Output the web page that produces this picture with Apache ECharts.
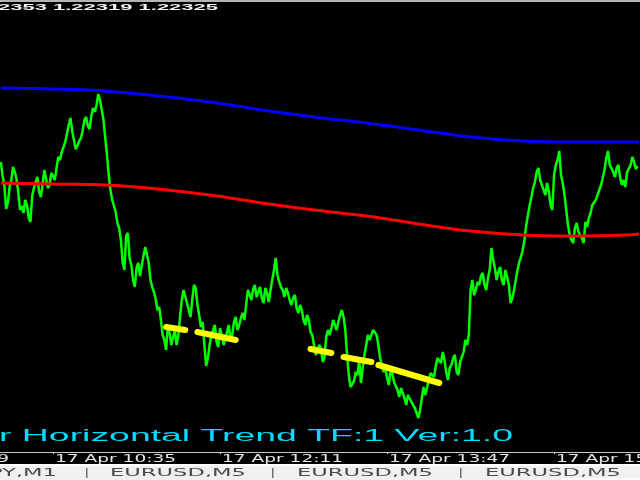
<!DOCTYPE html>
<html><head><meta charset="utf-8">
<script src="https://cdn.jsdelivr.net/npm/echarts@6/dist/echarts.min.js"></script>
<style>html,body{margin:0;padding:0;background:#000;overflow:hidden}#c{width:640px;height:480px}</style>
</head><body><div id="c"></div>
<script>
// Times are minutes since 00:00 on 17 Apr; prices in EURUSD (M1 closes)
const greenStart = 605;
const greenStep = 1;
const greenPrices = [
1.22323,1.22309,1.22300,1.22276,1.22282,1.22298,1.22305,1.22318,1.22313,1.22306,
1.22293,1.22275,1.22279,1.22272,1.22285,1.22280,1.22267,1.22263,1.22289,1.22297,
1.22303,1.22308,1.22293,1.22288,1.22301,1.22315,1.22313,1.22297,1.22300,1.22312,
1.22309,1.22305,1.22317,1.22328,1.22325,1.22333,1.22338,1.22343,1.22351,1.22360,
1.22367,1.22354,1.22345,1.22336,1.22339,1.22344,1.22347,1.22354,1.22365,1.22368,
1.22359,1.22356,1.22369,1.22377,1.22373,1.22380,1.22391,1.22385,1.22375,1.22365,
1.22347,1.22330,1.22310,1.22295,1.22285,1.22283,1.22273,1.22262,1.22257,1.22245,
1.22223,1.22215,1.22249,1.22252,1.22227,1.22220,1.22205,1.22198,1.22217,1.22222,
1.22209,1.22220,1.22229,1.22238,1.22237,1.22222,1.22205,1.22198,1.22193,1.22186,
1.22175,1.22178,1.22165,1.22150,1.22145,1.22135,1.22160,1.22152,1.22140,1.22148,
1.22155,1.22140,1.22149,1.22168,1.22185,1.22195,1.22193,1.22182,1.22175,1.22168,
1.22185,1.22200,1.22197,1.22180,1.22170,1.22158,1.22163,1.22140,1.22119,1.22127,
1.22140,1.22150,1.22155,1.22160,1.22143,1.22138,1.22157,1.22150,1.22140,1.22145,
1.22153,1.22160,1.22145,1.22150,1.22163,1.22168,1.22155,1.22160,1.22167,1.22172,
1.22165,1.22180,1.22195,1.22190,1.22185,1.22196,1.22200,1.22188,1.22193,1.22198,
1.22187,1.22182,1.22197,1.22192,1.22183,1.22195,1.22205,1.22215,1.22227,1.22210,
1.22203,1.22198,1.22195,1.22188,1.22197,1.22192,1.22185,1.22180,1.22187,1.22190,
1.22177,1.22172,1.22180,1.22175,1.22165,1.22160,1.22170,1.22165,1.22153,1.22150,
1.22140,1.22130,1.22135,1.22140,1.22137,1.22123,1.22127,1.22148,1.22155,1.22150,
1.22157,1.22165,1.22160,1.22155,1.22163,1.22170,1.22175,1.22168,1.22155,1.22130,
1.22110,1.22098,1.22100,1.22104,1.22113,1.22110,1.22125,1.22102,1.22117,1.22130,
1.22140,1.22150,1.22145,1.22150,1.22155,1.22157,1.22150,1.22140,1.22127,1.22120,
1.22113,1.22118,1.22107,1.22100,1.22115,1.22112,1.22103,1.22105,1.22095,1.22088,
1.22097,1.22095,1.22087,1.22080,1.22090,1.22092,1.22083,1.22085,1.22077,1.22072,
1.22067,1.22075,1.22087,1.22098,1.22090,1.22092,1.22105,1.22112,1.22113,1.22108,
1.22119,1.22127,1.22125,1.22122,1.22133,1.22125,1.22113,1.22105,1.22117,1.22120,
1.22127,1.22130,1.22113,1.22110,1.22123,1.22128,1.22133,1.22145,1.22140,1.22150,
1.22195,1.22205,1.22190,1.22195,1.22203,1.22200,1.22209,1.22212,1.22200,1.22195,
1.22207,1.22215,1.22237,1.22225,1.22217,1.22205,1.22213,1.22218,1.22205,1.22200,
1.22215,1.22208,1.22200,1.22182,1.22187,1.22195,1.22205,1.22215,1.22223,1.22228,
1.22235,1.22245,1.22260,1.22270,1.22280,1.22288,1.22297,1.22303,1.22313,1.22317,
1.22305,1.22300,1.22295,1.22290,1.22302,1.22293,1.22280,1.22275,1.22310,1.22320,
1.22325,1.22334,1.22310,1.22302,1.22290,1.22275,1.22260,1.22250,1.22245,1.22242,
1.22257,1.22262,1.22253,1.22250,1.22247,1.22242,1.22263,1.22258,1.22267,1.22272,
1.22280,1.22278,1.22285,1.22290,1.22295,1.22300,1.22307,1.22315,1.22327,1.22334,
1.22320,1.22318,1.22313,1.22308,1.22317,1.22320,1.22307,1.22300,1.22305,1.22298,
1.22313,1.22312,1.22320,1.22328,1.22323,1.22316,1.22319
];
const maTimes    = [605, 635, 665, 695, 725, 755, 785, 815, 845, 875, 905, 935, 965, 972];
const bluePrices = [1.22397,1.22396,1.22394,1.22389,1.22383,1.22375,1.22368,1.22362,1.22355,1.22348,1.22344,1.22343,1.22343,1.22343];
const redPrices  = [1.22302,1.22301,1.22300,1.22296,1.22290,1.22282,1.22275,1.22269,1.22261,1.22254,1.22250,1.22249,1.22250,1.22251];
const trendSegStart = [[700,1.22158],[718,1.22153],[783,1.22136],[802,1.22128],[822,1.22120]];
const trendSegEnd   = [[711,1.22155],[740,1.22145],[795,1.22132],[818,1.22123],[857,1.22102]];
const tickTimes  = [539, 635, 731, 827, 923];
const tickLabels = ['17 Apr 08:59','17 Apr 10:35','17 Apr 12:11','17 Apr 13:47','17 Apr 15:23'];
const infoText  = '2353 1.22319 1.22325';
const titleText = 'r Horizontal Trend TF:1 Ver:1.0';
const tabLabels = ['PY,M1','EURUSD,M5','EURUSD,M5','EURUSD,M5'];

const chart = echarts.init(document.getElementById('c'), null, {renderer:'canvas'});

const series = [
  {type:'line', name:'price', data: greenPrices.map((p,i)=>[greenStart+greenStep*i, p]),
   symbol:'none', lineStyle:{color:'#00ff00', width:2.5}, z:2, silent:true},
  {type:'line', name:'ma slow', data: maTimes.map((t,i)=>[t, redPrices[i]]),
   symbol:'none', smooth:0.4, lineStyle:{color:'#ff0000', width:3}, z:3, silent:true},
  {type:'line', name:'ma fast', data: maTimes.map((t,i)=>[t, bluePrices[i]]),
   symbol:'none', smooth:0.4, lineStyle:{color:'#0000ff', width:3}, z:3, silent:true}
];
trendSegStart.forEach((s,i)=>{
  series.push({type:'line', name:'trend'+i, data:[s, trendSegEnd[i]], symbol:'none',
    lineStyle:{color:'#ffff00', width:6, cap:'round'}, z:4, silent:true});
});

chart.setOption({
  backgroundColor:'#000000',
  animation:false,
  grid:{left:0, right:0, top:0, bottom:28},
  xAxis:{type:'value', min:604.5, max:972.4,
    axisLine:{lineStyle:{color:'#c8c8c8', width:1}},
    axisTick:{show:true, customValues: tickTimes.filter(t=>t>604.5), length:2, lineStyle:{color:'#e0e0e0'}},
    axisLabel:{show:false}, splitLine:{show:false}},
  yAxis:{type:'value', min:1.22033, max:1.22485, show:false},
  series: series
});

const mctx = document.createElement('canvas').getContext('2d');
function stretched(text, family, size, weight, x, y, targetW, color, align) {
  const font = weight + ' ' + size + 'px ' + family;
  mctx.font = font;
  const w = mctx.measureText(text).width;
  return {type:'text', x:x, y:y, scaleX: targetW / w, silent:true, z:10,
    style:{text:text, font:font, fill:color, textAlign:align||'left', textVerticalAlign:'middle',
           align:align||'left', verticalAlign:'middle'}};
}
function scaleFor(text, family, size, weight, targetW) {
  mctx.font = weight + ' ' + size + 'px ' + family;
  return targetW / mctx.measureText(text).width;
}

const g = [];
g.push({type:'rect', shape:{x:0, y:0, width:640, height:2}, style:{fill:'#b4b4b4'}, silent:true, z:10});
g.push(stretched(infoText, '"Liberation Sans"', 9, 'bold', -2, 7.5, 220, '#f4f4f4', 'left'));
g.push(stretched(titleText, '"Liberation Sans"', 16, 'normal', -1, 437, 514, '#00dcff', 'left'));
tickTimes.forEach((t,i)=>{
  const px = chart.convertToPixel({xAxisIndex:0}, t);
  g.push(stretched(tickLabels[i], '"DejaVu Sans"', 10, 'normal', px + 2, 459.5, 121, '#e6e6e6', 'left'));
});
g.push({type:'rect', shape:{x:0, y:464, width:640, height:2}, style:{fill:'#ffffff'}, silent:true, z:10});
g.push({type:'rect', shape:{x:0, y:466, width:640, height:14}, style:{fill:'#f0f0f0'}, silent:true, z:10});
g.push({type:'rect', shape:{x:562, y:478, width:78, height:2}, style:{fill:'#ffffff'}, silent:true, z:11});
const tabScale = scaleFor('EURUSD,M5', '"DejaVu Sans"', 10, 'normal', 136);
const tabFont = 'normal 10px "DejaVu Sans"';
const tabX = [57, 110, 297, 485];
const sepX = [86, 272, 460];
tabLabels.forEach((t,i)=>{
  g.push({type:'text', x:tabX[i], y:473, scaleX:tabScale, silent:true, z:12,
    style:{text:t, font:tabFont, fill:'#4a4a4a', textAlign: i===0?'right':'left', align: i===0?'right':'left',
           textVerticalAlign:'middle', verticalAlign:'middle'}});
});
sepX.forEach(x=>{
  g.push({type:'rect', shape:{x:x, y:468, width:1.5, height:10}, style:{fill:'#6e6e6e'}, silent:true, z:12});
});
chart.setOption({graphic: g});
</script>
</body></html>
